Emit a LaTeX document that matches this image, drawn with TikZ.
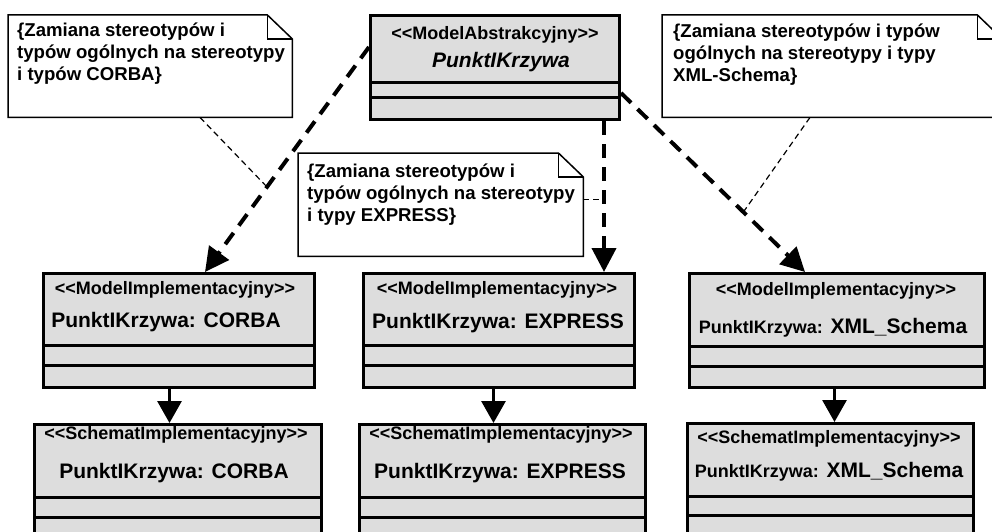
\documentclass[tikz,border=0pt]{standalone}
\usepackage{fontspec}
\setmainfont{Liberation Sans}[Ligatures=TeXOff]
\usetikzlibrary{arrows.meta}
\definecolor{classfill}{RGB}{221,221,221}
\begin{document}
\begin{tikzpicture}[x=1pt,y=-1pt,
  classbox/.style={draw, fill=classfill, line width=3pt, inner sep=0pt, anchor=north west},
  divider/.style={line width=3pt},
  noteframe/.style={inner sep=0pt, anchor=north west},
  noteline/.style={draw, fill=white, line width=1.5pt, line join=miter},
  notetext/.style={anchor=base west, align=left, inner sep=0pt, font=\bfseries\fontsize{18.6}{22}\selectfont},
  stereo/.style={anchor=base, inner sep=0pt, font=\bfseries\fontsize{18}{22}\selectfont},
  cname/.style={anchor=base, inner sep=0pt, font=\bfseries\fontsize{21}{25}\selectfont},
  realize/.style={line width=4pt, dash pattern=on 14pt off 9pt, -{Triangle[length=24pt,width=24pt]}},
  derive/.style={line width=3pt, -{Triangle[length=22pt,width=24pt]}},
  anchorlink/.style={line width=1.2pt, dash pattern=on 6pt off 4pt},
]
\useasboundingbox (0,0) rectangle (992,532);
\fill[white] (0,0) rectangle (992,532);
\clip (0,0) rectangle (992,532);

% ---------- notes ----------
\node[noteframe, minimum width=284pt, minimum height=102pt] (n1) at (8,15) {};
\node[noteframe, minimum width=285pt, minimum height=103pt] (n2) at (298,153) {};
\node[noteframe, minimum width=340pt, minimum height=102pt] (n3) at (662,15) {};
\foreach \n in {n1,n2,n3}{
  \draw[noteline] (\n.north west) -- ([xshift=-25pt]\n.north east) -- ([yshift=-24pt]\n.north east)
    -- (\n.south east) -- (\n.south west) -- cycle;
  \draw[line width=1.5pt] ([xshift=-25pt]\n.north east) -- ([xshift=-25pt,yshift=-24pt]\n.north east)
    -- ([yshift=-24pt]\n.north east);
}
% the base anchor of these three-line texts sits on the last line
\node[notetext] (t1) at (17,81) {\{Zamiana stereotypów i\\typów ogólnych na stereotypy\\i typów CORBA\}};
\node[notetext] (t2) at (307,221) {\{Zamiana stereotypów i\\typów ogólnych na stereotypy\\i typy EXPRESS\}};
\node[notetext] (t3) at (673,82) {\{Zamiana stereotypów i typów\\ogólnych na stereotypy i typy\\XML-Schema\}};

% ---------- abstract model class ----------
\node[classbox, minimum width=249pt, minimum height=104pt] (A) at (369,14) {};
\draw[divider] (A.west |- 0,83) -- (A.east |- 0,83);
\draw[divider] (A.west |- 0,98) -- (A.east |- 0,98);
\node[stereo] (Ast) at (495,40) {<<ModelAbstrakcyjny>>};
\node[cname, font=\bfseries\itshape\fontsize{21}{25}\selectfont] (Anm) at (501,68) {PunktIKrzywa};

% ---------- implementation models ----------
\node[classbox, minimum width=271pt, minimum height=114pt] (m1) at (42,272) {};
\node[classbox, minimum width=271pt, minimum height=114pt] (m2) at (362,272) {};
\node[classbox, minimum width=295pt, minimum height=114pt] (m3) at (688,272) {};
\foreach \c/\ya/\yb in {m1/345/365, m2/345/365, m3/346/366}{
  \draw[divider] (\c.west |- 0,\ya) -- (\c.east |- 0,\ya);
  \draw[divider] (\c.west |- 0,\yb) -- (\c.east |- 0,\yb);
}
\node[stereo] (m1st) at (175,294) {<<ModelImplementacyjny>>};
\node[cname] (m1nm) at (166,327) {PunktIKrzywa: CORBA};
\node[stereo] (m2st) at (497,294) {<<ModelImplementacyjny>>};
\node[cname] (m2nm) at (498,328) {PunktIKrzywa: EXPRESS};
\node[stereo] (m3st) at (836,295) {<<ModelImplementacyjny>>};
\node[cname] (m3nm) at (833,333) {{\fontsize{18}{22}\selectfont PunktIKrzywa:} XML\_Schema};

% ---------- implementation schemas ----------
\node[classbox, minimum width=287pt, minimum height=140pt] (s1) at (33,423) {};
\node[classbox, minimum width=286pt, minimum height=140pt] (s2) at (358,423) {};
\node[classbox, minimum width=286pt, minimum height=140pt] (s3) at (686,422) {};
\foreach \c/\ya/\yb in {s1/497/517, s2/497/517, s3/496/515}{
  \draw[divider] (\c.west |- 0,\ya) -- (\c.east |- 0,\ya);
  \draw[divider] (\c.west |- 0,\yb) -- (\c.east |- 0,\yb);
}
\node[stereo] (s1st) at (176,439) {<<SchematImplementacyjny>>};
\node[cname] (s1nm) at (174,478) {PunktIKrzywa: CORBA};
\node[stereo] (s2st) at (501,439) {<<SchematImplementacyjny>>};
\node[cname] (s2nm) at (500,478) {PunktIKrzywa: EXPRESS};
\node[stereo] (s3st) at (829,443) {<<SchematImplementacyjny>>};
\node[cname] (s3nm) at (829,477) {{\fontsize{18}{22}\selectfont PunktIKrzywa:} XML\_Schema};

% ---------- realisation arrows from the abstract model ----------
\coordinate (mtop) at ([xshift=-17pt]A.south east);
\draw[realize] ([yshift=-33pt]A.north west) -- node[coordinate, pos=0.622] (c1) {} ([xshift=163pt]m1.north west);
\draw[realize] (mtop) -- node[coordinate, pos=0.52] (c2) {} (mtop |- m2.north);
\draw[realize] ([yshift=-79pt]A.north east) -- node[coordinate, pos=0.665] (c3) {} ([xshift=117pt]m3.north west);

% ---------- note anchors ----------
\draw[anchorlink] ([xshift=192pt]n1.south west) -- (c1);
\draw[anchorlink] (n2.east |- c2) -- (c2);
\draw[anchorlink] ([xshift=148pt]n3.south west) -- (c3);

% ---------- model -> schema ----------
\coordinate (d1) at ([xshift=-9.5pt]m1.south);
\coordinate (d2) at ([xshift=-5.5pt]m2.south);
\coordinate (d3) at ([xshift=-2.5pt]m3.south);
\draw[derive] (d1) -- (d1 |- s1.north);
\draw[derive] (d2) -- (d2 |- s2.north);
\draw[derive] (d3) -- (d3 |- s3.north);
\end{tikzpicture}
\end{document}
